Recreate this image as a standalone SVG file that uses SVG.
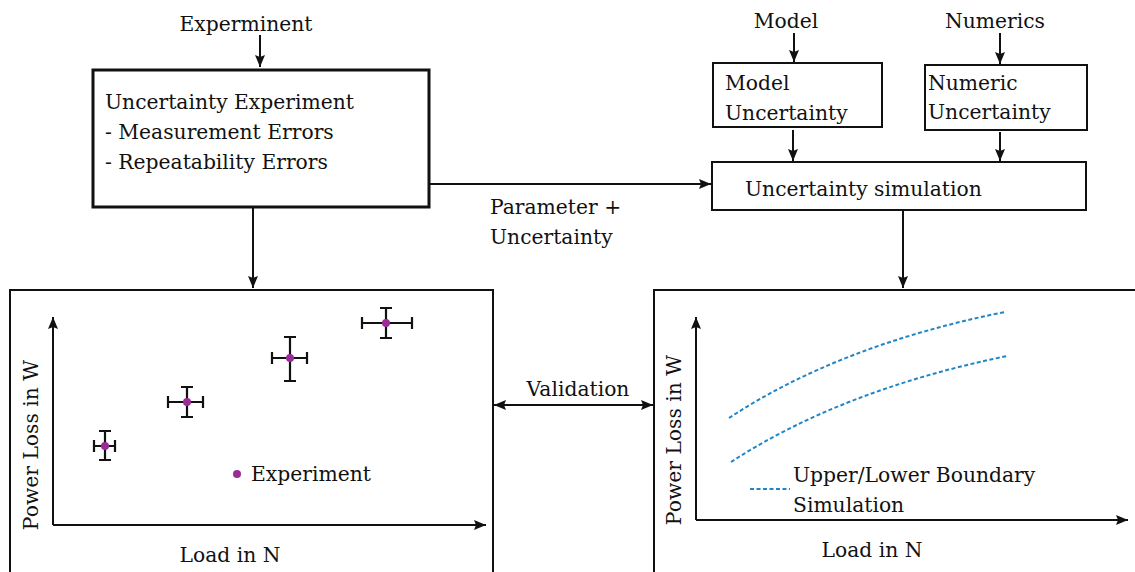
<svg xmlns="http://www.w3.org/2000/svg" width="1135" height="572" viewBox="0 0 1135 572">
<defs>
<style>
text{font-family:"DejaVu Serif","Liberation Serif",serif;font-size:20.3px;fill:#111}
.box{fill:#fff;stroke:#111;stroke-width:2}
.thick{stroke-width:3}
.ln{fill:none;stroke:#111;stroke-width:2}
.eb{fill:none;stroke:#111;stroke-width:2.2}
.dot{fill:#9c2a99}
.sim{fill:none;stroke:#1f86c8;stroke-width:2;stroke-dasharray:4 2.5}
</style>
<marker id="ah" viewBox="0 0 12 10" refX="12" refY="5" markerWidth="12" markerHeight="10" markerUnits="userSpaceOnUse" orient="auto-start-reverse">
<path d="M0,0 L12,5 L0,10 L2,5 z" fill="#111"/>
</marker>
</defs>
<rect width="1135" height="572" fill="#fff"/>

<g id="experiment-input"><text x="246" y="31" text-anchor="middle">Experminent</text></g>
<g id="model-input"><text x="786" y="28" text-anchor="middle">Model</text></g>
<g id="numerics-input"><text x="995" y="28" text-anchor="middle">Numerics</text></g>

<g id="uncertainty-experiment">
<rect class="box thick" x="93" y="70" width="336" height="137"/>
<text x="105" y="109">Uncertainty Experiment</text>
<text x="105" y="139">- Measurement Errors</text>
<text x="105" y="169">- Repeatability Errors</text>
</g>

<g id="model-uncertainty">
<rect class="box" x="713" y="63" width="169" height="64"/>
<text x="725" y="90">Model</text>
<text x="725" y="120">Uncertainty</text>
</g>

<g id="numeric-uncertainty">
<rect class="box" x="925" y="65" width="162" height="65"/>
<text x="928" y="90">Numeric</text>
<text x="928" y="119">Uncertainty</text>
</g>

<g id="uncertainty-simulation">
<rect class="box" x="712" y="162" width="374" height="48"/>
<text x="745" y="196">Uncertainty simulation</text>
</g>

<g id="experiment-plot">
<rect class="box" x="10" y="290" width="483" height="300"/>
<path class="ln" d="M53,525 V317" marker-end="url(#ah)"/>
<path class="ln" d="M53,525 H486" marker-end="url(#ah)"/>
<text transform="translate(38,445) rotate(-90)" text-anchor="middle">Power Loss in W</text>
<text x="230" y="562" text-anchor="middle">Load in N</text>
<g class="eb">
<path d="M94,446 H115 M94,440 V452 M115,440 V452 M105,431 V460 M99,431 H111 M99,460 H111"/>
<path d="M168,402 H203 M168,396 V408 M203,396 V408 M187,387 V417 M181,387 H193 M181,417 H193"/>
<path d="M272,358 H307 M272,352 V364 M307,352 V364 M290,337 V381 M284,337 H296 M284,381 H296"/>
<path d="M362,323 H412 M362,317 V329 M412,317 V329 M386,308 V338 M380,308 H392 M380,338 H392"/>
</g>
<circle class="dot" cx="105" cy="446" r="4"/>
<circle class="dot" cx="187" cy="402" r="4"/>
<circle class="dot" cx="290" cy="358" r="4"/>
<circle class="dot" cx="386" cy="323" r="4"/>
<circle class="dot" cx="237" cy="474" r="4"/>
<text x="251" y="481">Experiment</text>
</g>

<g id="simulation-plot">
<rect class="box" x="654" y="290" width="500" height="300"/>
<path class="ln" d="M696,520 V317" marker-end="url(#ah)"/>
<path class="ln" d="M696,520 H1128" marker-end="url(#ah)"/>
<text transform="translate(681,440) rotate(-90)" text-anchor="middle">Power Loss in W</text>
<text x="872" y="557" text-anchor="middle">Load in N</text>
<path class="sim" d="M729,418 Q840,345 1005,312"/>
<path class="sim" d="M731,462 Q842,390 1007,356"/>
<path class="sim" d="M750,489 H790"/>
<text x="793" y="482">Upper/Lower Boundary</text>
<text x="793" y="512">Simulation</text>
</g>

<g id="connectors">
<path class="ln" d="M260,35 V67" marker-end="url(#ah)"/>
<path class="ln" d="M794,33 V62" marker-end="url(#ah)"/>
<path class="ln" d="M1000,33 V64" marker-end="url(#ah)"/>
<path class="ln" d="M793,130 V161" marker-end="url(#ah)"/>
<path class="ln" d="M1000,132 V161" marker-end="url(#ah)"/>
<path class="ln" d="M253,207 V288" marker-end="url(#ah)"/>
<path class="ln" d="M903,210 V288" marker-end="url(#ah)"/>
<path class="ln" d="M429,184 H711" marker-end="url(#ah)"/>
<text x="490" y="214">Parameter +</text>
<text x="490" y="244">Uncertainty</text>
<path class="ln" d="M494,405 H653" marker-start="url(#ah)" marker-end="url(#ah)"/>
<text x="578" y="396" text-anchor="middle">Validation</text>
</g>
</svg>
